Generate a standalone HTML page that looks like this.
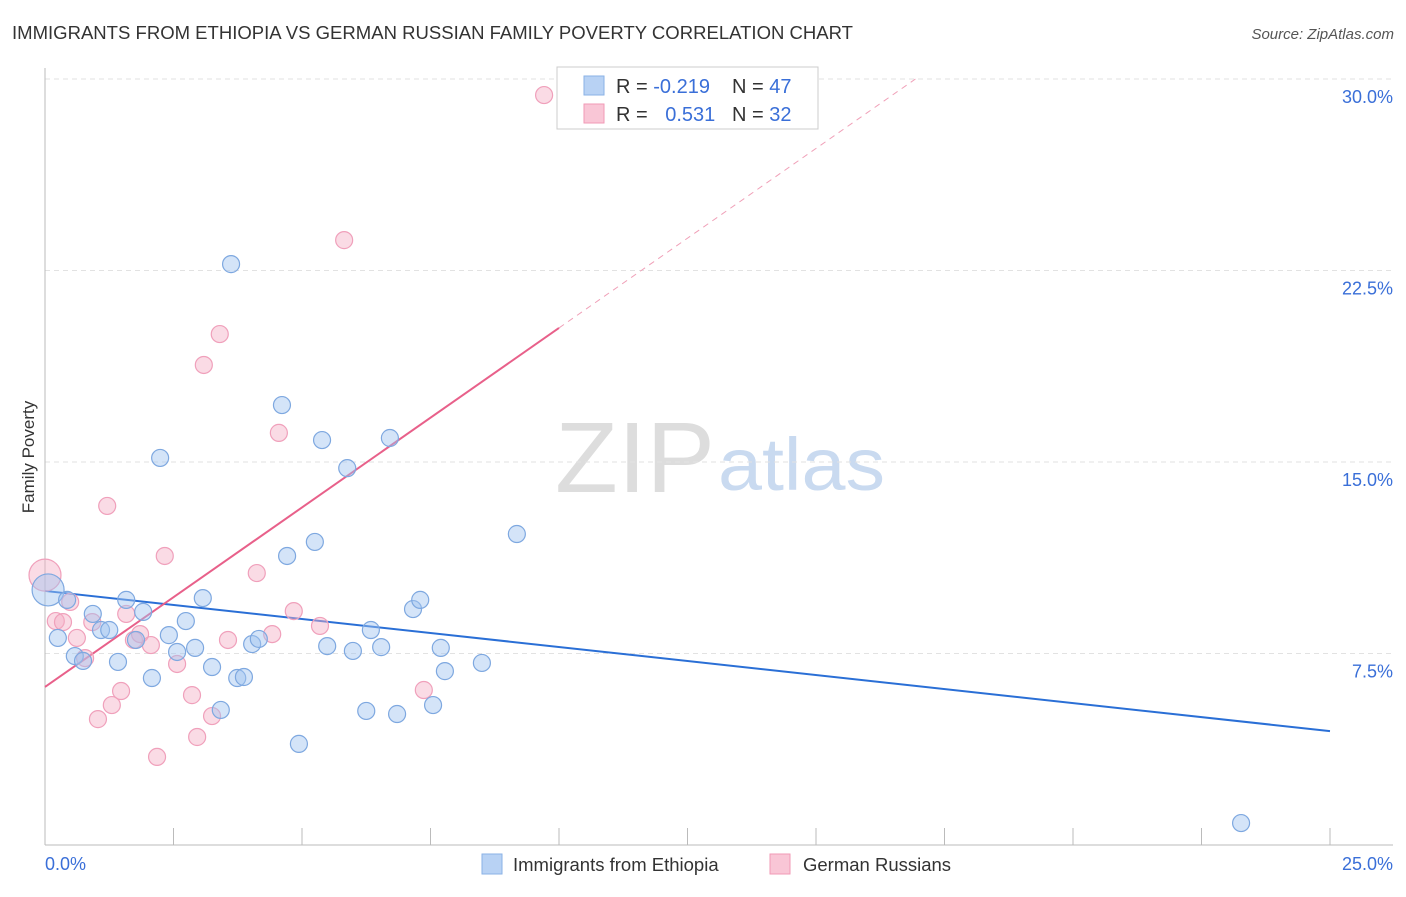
<!DOCTYPE html>
<html><head><meta charset="utf-8"><style>
body{margin:0;background:#fff;font-family:"Liberation Sans",sans-serif;}
svg text{font-family:"Liberation Sans",sans-serif;}
</style></head><body>
<svg id="chart" width="1406" height="892">
<text x="12" y="39" font-size="18" fill="#333" textLength="841" lengthAdjust="spacingAndGlyphs">IMMIGRANTS FROM ETHIOPIA VS GERMAN RUSSIAN FAMILY POVERTY CORRELATION CHART</text>
<text x="1394" y="39" font-size="15" fill="#555" font-style="italic" text-anchor="end">Source: ZipAtlas.com</text>
<text x="34" y="457" font-size="17" fill="#333" text-anchor="middle" transform="rotate(-90 34 457)">Family Poverty</text>
<g>
<text x="555" y="492" font-size="100" fill="#ddd" font-family="Liberation Serif,serif" textLength="160" lengthAdjust="spacingAndGlyphs">ZIP</text>
<text x="718" y="490" font-size="74" fill="#c9daf0" textLength="167" lengthAdjust="spacingAndGlyphs">atlas</text>
</g>
<g id="grid"></g><g id="axes"></g><g id="lines"></g><g id="pts"></g>
<g>
<rect x="557" y="67" width="261" height="62" fill="#fff" stroke="#ccc"/>
<rect x="584" y="76" width="20" height="19" fill="#b8d2f4" stroke="#8ab2e6"/>
<rect x="584" y="104" width="20" height="19" fill="#f9c6d6" stroke="#f19ab6"/>
<text x="616" y="93" font-size="20" fill="#333">R = <tspan fill="#3a6fd8">-0.219</tspan></text>
<text x="732" y="93" font-size="20" fill="#333">N = <tspan fill="#3a6fd8">47</tspan></text>
<text x="616" y="121" font-size="20" fill="#333">R = <tspan fill="#3a6fd8" dx="12">0.531</tspan></text>
<text x="732" y="121" font-size="20" fill="#333">N = <tspan fill="#3a6fd8">32</tspan></text>
</g>
<g>
<rect x="482" y="854" width="20" height="20" fill="#b8d2f4" stroke="#8ab2e6"/>
<text x="513" y="871" font-size="18.5" fill="#333">Immigrants from Ethiopia</text>
<rect x="770" y="854" width="20" height="20" fill="#f9c6d6" stroke="#f19ab6"/>
<text x="803" y="871" font-size="18.5" fill="#333">German Russians</text>
</g>
</svg>
<script>
const yTicks=[7.5,15,22.5,30];
const yTickLabels=["7.5%","15.0%","22.5%","30.0%"];
const xTickLabels=["0.0%","25.0%"];
const blueX=[0.06,0.25,0.43,0.58,0.74,0.93,1.09,1.25,1.42,1.58,1.77,1.91,2.08,2.24,2.41,2.57,2.74,2.92,3.07,3.25,3.42,3.62,3.74,3.87,4.03,4.16,4.61,4.71,4.94,5.25,5.39,5.49,5.88,5.99,6.25,6.34,6.54,6.71,6.85,7.16,7.30,7.55,7.70,7.78,8.50,9.18,23.27];
const blueY=[9.99,8.11,9.60,7.40,7.21,9.05,8.42,8.42,7.17,9.60,8.03,9.13,6.54,15.16,8.22,7.56,8.77,7.72,9.67,6.97,5.29,22.75,6.54,6.58,7.87,8.07,17.23,11.32,3.96,11.87,15.86,7.79,14.76,7.60,5.25,8.42,7.75,15.94,5.13,9.24,9.60,5.48,7.72,6.81,7.13,12.18,0.86];
const pinkX=[0,0.21,0.35,0.49,0.62,0.78,0.92,1.03,1.21,1.30,1.48,1.58,1.73,1.85,2.06,2.18,2.33,2.57,2.86,2.96,3.09,3.25,3.40,3.56,4.12,4.42,4.55,4.84,5.35,5.82,7.37,9.71];
const pinkY=[10.57,8.77,8.73,9.52,8.11,7.32,8.73,4.93,13.28,5.48,6.03,9.05,8.03,8.26,7.83,3.45,11.32,7.09,5.87,4.23,18.80,5.05,20.01,8.03,10.65,8.26,16.14,9.16,8.58,23.69,6.07,29.37];
const blueTrend=[9.95,4.46];
const pinkTrend=[6.19,1.406];
const NS="http://www.w3.org/2000/svg";
const X=v=>45+v/25*1285, Y=v=>845-v/7.5*191.5;
function mk(p,t,a){const e=document.createElementNS(NS,t);for(const k in a)e.setAttribute(k,a[k]);document.getElementById(p).appendChild(e);return e;}
yTicks.forEach((t,i)=>{
 const g=mk('grid','line',{x1:45,x2:1393,y1:Y(t),y2:Y(t),stroke:'#e2e2e2','stroke-dasharray':'5,4'});
 
 
 const l=mk('axes','text',{x:1393,y:Y(t)+24,'font-size':18,fill:'#3a6fd8','text-anchor':'end'});l.textContent=yTickLabels[i];
 
 
});
const ax=mk('axes','line',{x1:45,x2:45,y1:68,y2:845,stroke:'#bbb'});


const bx=mk('axes','line',{x1:45,x2:1393,y1:845,y2:845,stroke:'#bbb'});


for(let i=0;i<=10;i++){const t=mk('axes','line',{x1:X(i*2.5),x2:X(i*2.5),y1:828,y2:845,stroke:'#bbb'});
 
 }
[[0,'start',45],[25,'end',1393]].forEach((d,i)=>{const l=mk('axes','text',{x:d[2],y:870,'font-size':18,fill:'#3a6fd8','text-anchor':d[1]});l.textContent=xTickLabels[i];
 
 });
const bl=mk('lines','line',{x1:X(0),y1:Y(blueTrend[0]),x2:X(25),y2:Y(blueTrend[1]),stroke:'#2a6fd6','stroke-width':2});


const pEnd=(30-pinkTrend[0])/pinkTrend[1];
const pl=mk('lines','line',{x1:X(0),y1:Y(pinkTrend[0]),x2:X(10),y2:Y(pinkTrend[0]+pinkTrend[1]*10),stroke:'#e8608a','stroke-width':2});


const pd=mk('lines','line',{x1:X(10),y1:Y(pinkTrend[0]+pinkTrend[1]*10),x2:X(pEnd),y2:Y(30),stroke:'#f0a0b8','stroke-width':1,'stroke-dasharray':'6,5'});


pinkX.forEach((x,i)=>{const c=mk('pts','circle',{cx:X(x),cy:Y(pinkY[i]),r:i==0?16:8.5,fill:'rgba(245,175,198,0.45)',stroke:'#f0a0bb','stroke-width':1.2});
 
 });
blueX.forEach((x,i)=>{const c=mk('pts','circle',{cx:X(x),cy:Y(blueY[i]),r:i==0?16:8.5,fill:'rgba(160,195,240,0.45)',stroke:'#7ea8e0','stroke-width':1.2});
 
 });
</script>
</body></html>
